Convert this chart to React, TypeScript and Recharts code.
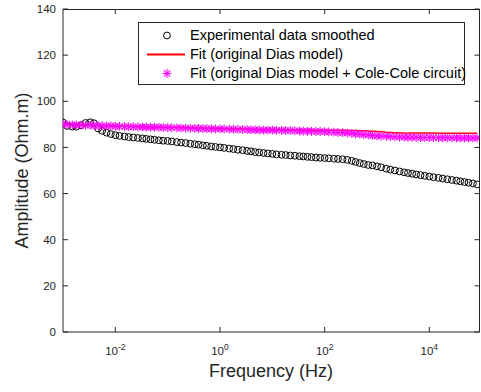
import React from "react";
import {
  ComposedChart,
  XAxis,
  YAxis,
  Line,
  Scatter,
  Legend,
  Customized,
} from "recharts";

// frequencies (Hz), E12-like log spacing
const freqs = [
  0.001, 0.0012, 0.0015, 0.0018, 0.0022, 0.0027, 0.0033, 0.0039, 0.0047, 0.0056, 0.0068, 0.0082,
  0.01, 0.012, 0.015, 0.018, 0.022, 0.027, 0.033, 0.039, 0.047, 0.056, 0.068, 0.082,
  0.1, 0.12, 0.15, 0.18, 0.22, 0.27, 0.33, 0.39, 0.47, 0.56, 0.68, 0.82,
  1, 1.2, 1.5, 1.8, 2.2, 2.7, 3.3, 3.9, 4.7, 5.6, 6.8, 8.2,
  10, 12, 15, 18, 22, 27, 33, 39, 47, 56, 68, 82,
  100, 120, 150, 180, 220, 270, 330, 390, 470, 560, 680, 820,
  1000, 1200, 1500, 1800, 2200, 2700, 3300, 3900, 4700, 5600, 6800, 8200,
  10000, 12000, 15000, 18000, 22000, 27000, 33000, 39000, 47000, 56000, 68000, 82000,
];

const expSmoothed = [
  90.8, 89.3, 89.0, 89.0, 89.6, 90.6, 90.9, 90.5, 88.2, 87.2, 86.4, 85.8,
  85.3, 85.0, 84.7, 84.5, 84.3, 84.1, 83.9, 83.7, 83.5, 83.3, 83.1, 82.9,
  82.8, 82.6, 82.3, 82.1, 81.9, 81.6, 81.4, 81.2, 80.9, 80.7, 80.4, 80.2,
  80.0, 79.8, 79.5, 79.3, 79.0, 78.8, 78.5, 78.3, 78.0, 77.8, 77.6, 77.4,
  77.2, 77.0, 76.8, 76.7, 76.5, 76.4, 76.2, 76.1, 75.9, 75.8, 75.6, 75.5,
  75.4, 75.3, 75.1, 75.0, 74.9, 74.6, 74.2, 73.7, 73.2, 72.8, 72.4, 72.2,
  71.8, 71.4, 70.8, 70.4, 70.0, 69.6, 69.2, 68.9, 68.6, 68.3, 68.0, 67.7,
  67.4, 67.1, 66.8, 66.5, 66.2, 65.9, 65.6, 65.3, 65.0, 64.7, 64.4, 64.0,
];

const fitDias = [
  90.0, 89.9, 89.9, 89.8, 89.8, 89.7, 89.6, 89.6, 89.5, 89.5, 89.4, 89.4,
  89.3, 89.3, 89.2, 89.2, 89.1, 89.1, 89.0, 89.0, 88.9, 88.9, 88.8, 88.8,
  88.8, 88.7, 88.7, 88.6, 88.6, 88.5, 88.5, 88.4, 88.4, 88.3, 88.3, 88.3,
  88.3, 88.2, 88.2, 88.1, 88.1, 88.0, 88.0, 87.9, 87.9, 87.8, 87.8, 87.8,
  87.8, 87.7, 87.7, 87.7, 87.7, 87.6, 87.6, 87.6, 87.6, 87.5, 87.5, 87.5,
  87.5, 87.5, 87.4, 87.4, 87.4, 87.3, 87.3, 87.3, 87.2, 87.2, 87.1, 87.0,
  86.9, 86.8, 86.6, 86.5, 86.4, 86.3, 86.3, 86.2, 86.2, 86.2, 86.2, 86.2,
  86.2, 86.2, 86.1, 86.1, 86.1, 86.1, 86.1, 86.1, 86.1, 86.1, 86.1, 86.1,
];

const fitColeCole = [
  90.0, 89.9, 89.8, 89.8, 89.7, 89.6, 89.6, 89.5, 89.4, 89.4, 89.3, 89.3,
  89.2, 89.1, 89.1, 89.0, 89.0, 88.9, 88.9, 88.8, 88.8, 88.7, 88.7, 88.6,
  88.6, 88.5, 88.5, 88.4, 88.4, 88.3, 88.3, 88.2, 88.2, 88.1, 88.1, 88.0,
  88.0, 88.0, 87.9, 87.9, 87.8, 87.8, 87.7, 87.7, 87.6, 87.6, 87.5, 87.5,
  87.5, 87.4, 87.4, 87.3, 87.3, 87.2, 87.1, 87.1, 87.0, 87.0, 86.9, 86.9,
  86.8, 86.7, 86.6, 86.5, 86.4, 86.2, 86.1, 85.9, 85.8, 85.6, 85.4, 85.2,
  85.0, 84.9, 84.8, 84.7, 84.6, 84.5, 84.5, 84.4, 84.4, 84.4, 84.3, 84.3,
  84.3, 84.3, 84.2, 84.2, 84.2, 84.2, 84.2, 84.1, 84.1, 84.1, 84.1, 84.1,
];

const xTicks = [0.01, 1, 100, 10000];
const xTickExponents = ["-2", "0", "2", "4"];
const yTicks = [0, 20, 40, 60, 80, 100, 120, 140];
const xDomain = [0.001, 91000];
const yDomain = [0, 140];

const legendLabels = [
  "Experimental data smoothed",
  "Fit (original Dias model)",
  "Fit (original Dias model + Cole-Cole circuit)",
];

const data = freqs.map((f, i) => ({
  f,
  exp: expSmoothed[i],
  fit: fitDias[i],
  cc: fitColeCole[i],
}));

const FONT = "'Liberation Sans', Arial, Helvetica, sans-serif";
const AXIS = "#262626";
const PLOT_TOP = 9;
const PLOT_BOTTOM = 332;
const PLOT_LEFT = 63;
const PLOT_RIGHT = 479.5;
const TICK_LEN = 5;

function BottomTick({ x, payload }: any) {
  const i = xTicks.indexOf(payload.value);
  return (
    <g>
      <line x1={x} x2={x} y1={PLOT_BOTTOM} y2={PLOT_BOTTOM - TICK_LEN} stroke={AXIS} strokeWidth={1} />
      <text x={x} y={355} textAnchor="middle" fontFamily={FONT} fontSize={11.5} fill={AXIS}>
        <tspan>10</tspan>
        <tspan dy={-5.5} fontSize={8.5}>{xTickExponents[i]}</tspan>
      </text>
    </g>
  );
}

function LeftTick({ y, payload }: any) {
  return (
    <g>
      <line x1={PLOT_LEFT} x2={PLOT_LEFT + TICK_LEN} y1={y} y2={y} stroke={AXIS} strokeWidth={1} />
      <text x={56} y={y + 4.1} textAnchor="end" fontFamily={FONT} fontSize={11.5} fill={AXIS}>
        {payload.value}
      </text>
    </g>
  );
}

// top and right edges of the MATLAB-style box, with inward ticks
function BoxFrame() {
  const lx0 = Math.log10(xDomain[0]);
  const lx1 = Math.log10(xDomain[1]);
  const px = (t: number) => PLOT_LEFT + ((Math.log10(t) - lx0) / (lx1 - lx0)) * (PLOT_RIGHT - PLOT_LEFT);
  const py = (v: number) => PLOT_BOTTOM - ((v - yDomain[0]) / (yDomain[1] - yDomain[0])) * (PLOT_BOTTOM - PLOT_TOP);
  return (
    <g stroke={AXIS} strokeWidth={1} fill="none">
      <line x1={PLOT_LEFT} x2={PLOT_RIGHT} y1={PLOT_TOP + 0.5} y2={PLOT_TOP + 0.5} />
      <line x1={PLOT_RIGHT} x2={PLOT_RIGHT} y1={PLOT_TOP} y2={PLOT_BOTTOM} />
      {xTicks.map((t) => (
        <line key={"t" + t} x1={px(t)} x2={px(t)} y1={PLOT_TOP} y2={PLOT_TOP + TICK_LEN} />
      ))}
      {yTicks.map((t) => (
        <line key={"r" + t} x1={PLOT_RIGHT} x2={PLOT_RIGHT - TICK_LEN} y1={py(t)} y2={py(t)} />
      ))}
    </g>
  );
}

function OpenCircle({ cx, cy }: any) {
  return <circle cx={cx} cy={cy} r={3.4} fill="none" stroke="#000" strokeWidth={1} />;
}

function Asterisk({ cx, cy }: any) {
  const r = 4.4;
  const d = r * 0.7071;
  return (
    <g stroke="#ff00ff" strokeWidth={1.1}>
      <line x1={cx - r} x2={cx + r} y1={cy} y2={cy} />
      <line x1={cx} x2={cx} y1={cy - r} y2={cy + r} />
      <line x1={cx - d} x2={cx + d} y1={cy - d} y2={cy + d} />
      <line x1={cx - d} x2={cx + d} y1={cy + d} y2={cy - d} />
    </g>
  );
}

function LegendBox() {
  const icons = [
    <circle key="c" cx={28} cy={9.5} r={3.4} fill="none" stroke="#000" />,
    <line key="l" x1={8} x2={46} y1={9.5} y2={9.5} stroke="#ff0000" strokeWidth={1.8} />,
    <Asterisk key="a" cx={28} cy={9.5} />,
  ];
  return (
    <div
      style={{
        position: "relative",
        width: 327,
        height: 63,
        boxSizing: "border-box",
        border: `1px solid ${AXIS}`,
        background: "#fff",
        fontFamily: FONT,
        fontSize: 14.5,
        color: "#000",
      }}
    >
      {legendLabels.map((label, i) => (
        <div
          key={label}
          style={{ position: "absolute", left: 0, top: 3 + i * 19, height: 19, width: 325 }}
        >
          <svg width={50} height={19} style={{ position: "absolute", left: 0, top: 0 }}>
            {icons[i]}
          </svg>
          <span
            style={{ position: "absolute", left: 51, top: 0, lineHeight: "19px", whiteSpace: "nowrap" }}
          >
            {label}
          </span>
        </div>
      ))}
    </div>
  );
}

export default function App() {
  return (
    <div style={{ position: "absolute", left: 0, top: 0, width: 481, height: 392, background: "#fff" }}>
      <ComposedChart
        width={481}
        height={392}
        data={data}
        margin={{ top: PLOT_TOP, right: 481 - PLOT_RIGHT, bottom: 0, left: 0 }}
      >
        <XAxis
          dataKey="f"
          type="number"
          scale="log"
          domain={xDomain}
          allowDataOverflow
          ticks={xTicks}
          height={392 - PLOT_BOTTOM}
          tickSize={0}
          tickMargin={0}
          tick={<BottomTick />}
          stroke={AXIS}
          label={{
            content: () => (
              <text x={271} y={377} textAnchor="middle" fontFamily={FONT} fontSize={18} fill={AXIS}>
                Frequency (Hz)
              </text>
            ),
          }}
        />
        <YAxis
          type="number"
          domain={yDomain}
          ticks={yTicks}
          width={PLOT_LEFT}
          tickSize={0}
          tickMargin={0}
          tick={<LeftTick />}
          stroke={AXIS}
          label={{
            content: () => (
              <text
                x={28}
                y={170.5}
                transform="rotate(-90 28 170.5)"
                textAnchor="middle"
                fontFamily={FONT}
                fontSize={18}
                fill={AXIS}
              >
                Amplitude (Ohm.m)
              </text>
            ),
          }}
        />
        <Customized component={BoxFrame} />
        <Scatter dataKey="exp" shape={<OpenCircle />} isAnimationActive={false} />
        <Line
          dataKey="fit"
          type="linear"
          stroke="#ff0000"
          strokeWidth={1.5}
          dot={false}
          activeDot={false}
          isAnimationActive={false}
        />
        <Scatter dataKey="cc" shape={<Asterisk />} isAnimationActive={false} />
        <Legend
          layout="vertical"
          align="center"
          verticalAlign="middle"
          content={() => <LegendBox />}
          wrapperStyle={{ left: 138, top: 22, width: 327, height: 63 }}
        />
      </ComposedChart>
      <div
        style={{
          position: "absolute",
          left: PLOT_LEFT,
          top: PLOT_TOP,
          width: 417,
          height: PLOT_BOTTOM - PLOT_TOP,
          boxSizing: "border-box",
          borderTop: `1px solid ${AXIS}`,
          borderRight: `1px solid ${AXIS}`,
          pointerEvents: "none",
        }}
      />
    </div>
  );
}
